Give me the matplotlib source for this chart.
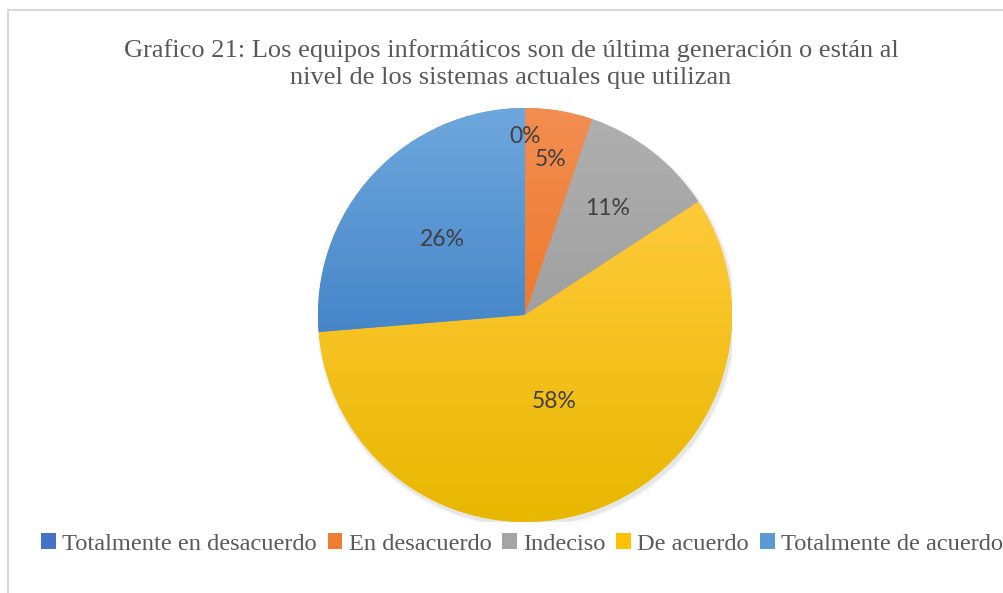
import numpy as np
import matplotlib
matplotlib.use("Agg")
from matplotlib import pyplot as plt
from matplotlib.patches import Patch, Rectangle, Circle
from matplotlib.colors import LinearSegmentedColormap

# datos (respuestas)
categorias = ["Totalmente en desacuerdo", "En desacuerdo", "Indeciso",
              "De acuerdo", "Totalmente de acuerdo"]
respuestas = [0, 1, 2, 11, 5]
titulo = ("Grafico 21: Los equipos informáticos son de última generación o están al\n"
          "nivel de los sistemas actuales que utilizan")

# colores (arriba, abajo) del degradado de cada porcion
col_arriba = ["#5B86D0", "#F28E52", "#AFAFAF", "#FFCA3A", "#6EA7DD"]
col_abajo = ["#3A66B8", "#EE7A2C", "#A0A0A0", "#E8B700", "#4686C8"]
col_leyenda = ["#4472C4", "#ED7D31", "#A5A5A5", "#FFC000", "#5B9BD5"]
dist_etiqueta = [0.86, 0.76, 0.65, 0.44, 0.54]

W, H = 1004, 593
fig = plt.figure(figsize=(W / 100, H / 100), dpi=100)

# marco del grafico
fig.add_artist(Rectangle((8 / W, -0.1), 1.2, 1 - 10 / H + 0.1, transform=fig.transFigure,
                         fill=False, edgecolor="#D9D9D9", linewidth=1.5))

cx, cy, r = 525, 315, 207
ax = fig.add_axes([(cx - r) / W, (H - cy - r) / H, 2 * r / W, 2 * r / H])

# sombra suave
for k, a in [(1.015, 0.04), (1.007, 0.06)]:
    ax.add_patch(Circle((0.008, -0.014), k, color="black", alpha=a, lw=0, zorder=0))

wedges, _ = ax.pie(respuestas, startangle=90, counterclock=False, colors=col_leyenda,
                   radius=1, wedgeprops=dict(linewidth=0))

grad = np.linspace(0, 1, 256).reshape(-1, 1)
for w, c1, c2 in zip(wedges, col_arriba, col_abajo):
    v = w.get_path().vertices
    if np.ptp(v[:, 0]) == 0 and np.ptp(v[:, 1]) == 0:
        continue
    cmap = LinearSegmentedColormap.from_list("g", [c2, c1])
    im = ax.imshow(grad, cmap=cmap, origin="lower", aspect="auto",
                   extent=[v[:, 0].min(), v[:, 0].max(), v[:, 1].min(), v[:, 1].max()],
                   zorder=2)
    im.set_clip_path(w)
    w.set_zorder(1)

total = sum(respuestas)
ang0 = 90.0
acum = 0
for val, d in zip(respuestas, dist_etiqueta):
    mid = ang0 - 360.0 * (acum + val / 2) / total
    acum += val
    ax.text(d * np.cos(np.radians(mid)), d * np.sin(np.radians(mid)),
            "%d%%" % round(100 * val / total), ha="center", va="center",
            fontsize=16.5, fontweight="normal", color="#404040",
            family=["Lato", "DejaVu Sans"], zorder=5)

ax.set_xlim(-1, 1)
ax.set_ylim(-1, 1)
ax.axis("off")

fig.text(511 / W, 1 - 64 / H, titulo, ha="center", va="center", fontsize=19,
         color="#595959", family=["Liberation Serif"], linespacing=1.32)

handles = [Patch(facecolor=c, edgecolor="none") for c in col_leyenda]
fig.legend(handles, categorias, loc="center", bbox_to_anchor=(522 / W, 1 - 544 / H),
           ncol=5, frameon=False, handlelength=0.6, handleheight=0.6,
           handletextpad=0.25, columnspacing=0.45,
           prop=dict(family="Liberation Serif", size=17.6), labelcolor="#595959")

fig.savefig("out.png", dpi=100)
